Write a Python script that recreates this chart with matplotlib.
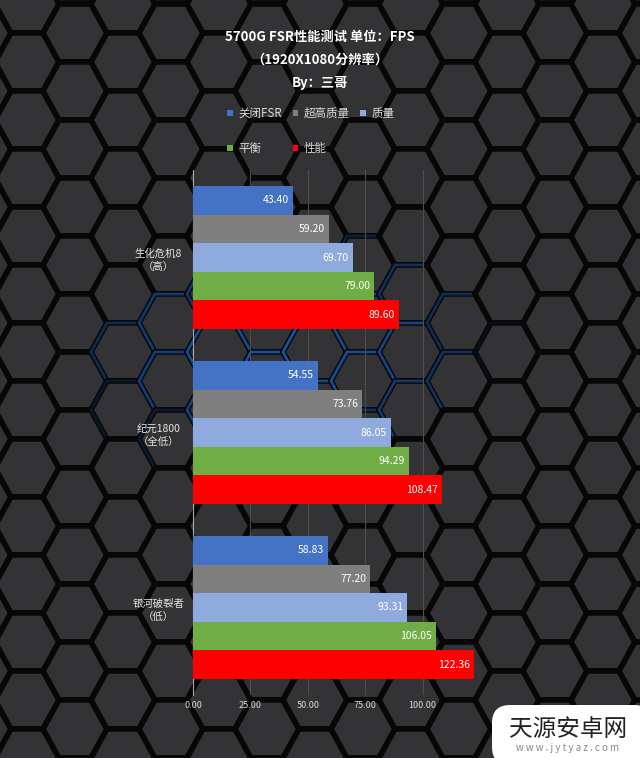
import numpy as np
import matplotlib
matplotlib.use("Agg")
import matplotlib.pyplot as plt
from matplotlib.patches import Polygon, Patch, FancyBboxPatch

plt.rcParams['font.family'] = ['Noto Sans CJK SC', 'DejaVu Sans']

# data
games = ["生化危机8\n（高）", "纪元1800\n（全低）", "银河破裂者\n（低）"]
modes = ["关闭FSR", "超高质量", "质量", "平衡", "性能"]
colors = ["#4472C4", "#7F7F7F", "#8FAADC", "#70AD47", "#FF0000"]
fps = {
    "关闭FSR": [43.40, 54.55, 58.83],
    "超高质量": [59.20, 73.76, 77.20],
    "质量": [69.70, 86.05, 93.31],
    "平衡": [79.00, 94.29, 106.05],
    "性能": [89.60, 108.47, 122.36],
}
xticks = [0, 25, 50, 75, 100, 125]
xticklabels = ["0.00", "25.00", "50.00", "75.00", "100.00", ""]

W, H = 640, 758
fig = plt.figure(figsize=(W / 100, H / 100), dpi=100)
fig.patch.set_facecolor("#111111")

# hexagon background
bg = fig.add_axes([0, 0, 1, 1])
bg.set_xlim(0, W)
bg.set_ylim(H, 0)
bg.axis("off")
R, hh = 32, 29
for c in range(-1, 16):
    cx = 27 + c * 48
    for r in range(-1, 16):
        cy = 62 + r * 2 * hh + (hh if c % 2 else 0)
        verts = [(cx - R, cy), (cx - R / 2, cy - hh), (cx + R / 2, cy - hh),
                 (cx + R, cy), (cx + R / 2, cy + hh), (cx - R / 2, cy + hh)]
        bg.add_patch(Polygon(verts, closed=True, facecolor="#333335",
                             edgecolor="#070707", lw=4))
        d = ((cx - 300) / 210) ** 2 + ((cy - 360) / 110) ** 2
        if d < 1:
            bg.add_patch(Polygon(verts, closed=True, fill=False,
                                 edgecolor="#1e6ad8", lw=2.0, alpha=0.75 * (1 - d) ** 0.6))

# watermark
bg.add_patch(FancyBboxPatch((492, 705), 160, 60, boxstyle="round,pad=0,rounding_size=18",
                            facecolor="white", edgecolor="none"))
bg.text(568, 729, "天源安卓网", fontsize=17, color="#222222", ha="center", va="center")
bg.text(568, 748, "w w w . j y t y a z . c o m", fontsize=7, color="#888888", ha="center", va="center")

# chart
ax = fig.add_axes([193 / W, 1 - 695 / H, 287 / W, 525 / H])
ax.patch.set_alpha(0)
h = 0.163
y = np.arange(len(games))
for j, m in enumerate(modes):
    bars = ax.barh(y + (j - 2) * h, fps[m], height=h, color=colors[j], label=m, zorder=3)
    for b, v in zip(bars, fps[m]):
        ax.annotate(f"{v:.2f}", (v, b.get_y() + h / 2), xytext=(-3, 0),
                    textcoords="offset points", ha="right", va="center",
                    color="white", fontsize=7.5, zorder=4)

ax.set_xlim(0, 125)
ax.set_ylim(2.5, -0.5)
ax.set_xticks(xticks)
ax.set_xticklabels(xticklabels, color="#d9d9d9", fontsize=6.5)
ax.set_yticks(y)
ax.set_yticklabels(games, color="#e6e6e6", fontsize=7.5, linespacing=1.4)
for t in ax.get_yticklabels():
    t.set_ha("center")
ax.tick_params(axis="both", length=0)
ax.tick_params(axis="x", pad=4)
ax.tick_params(axis="y", pad=25)
ax.grid(axis="x", color="#4d4d4d", lw=0.8, zorder=1)
for s in ["top", "right", "bottom"]:
    ax.spines[s].set_visible(False)
ax.spines["left"].set_color("#a6a6a6")
ax.spines["left"].set_linewidth(0.8)

# titles
fig.text(0.5, 1 - 37 / H, "5700G FSR性能测试 单位：FPS", ha="center", va="center",
         color="white", fontsize=9.5, fontweight="bold")
fig.text(0.5, 1 - 60 / H, "（1920X1080分辨率）", ha="center", va="center",
         color="white", fontsize=9.5, fontweight="bold")
fig.text(0.5, 1 - 83 / H, "By：三哥", ha="center", va="center",
         color="white", fontsize=9.5, fontweight="bold")

# legend, row-wise order
handles = [Patch(facecolor=c, edgecolor="none") for c in colors]
order = [0, 3, 1, 4, 2]
leg = fig.legend([handles[i] for i in order], [modes[i] for i in order], ncol=3,
                 loc="center", bbox_to_anchor=(311 / W, 1 - 131 / H), frameon=False,
                 fontsize=8.3, handlelength=0.5, handleheight=0.5, handletextpad=0.5,
                 columnspacing=0.9, labelspacing=1.9, labelcolor="#d9d9d9")

fig.savefig("out.png", dpi=100, facecolor=fig.get_facecolor())
